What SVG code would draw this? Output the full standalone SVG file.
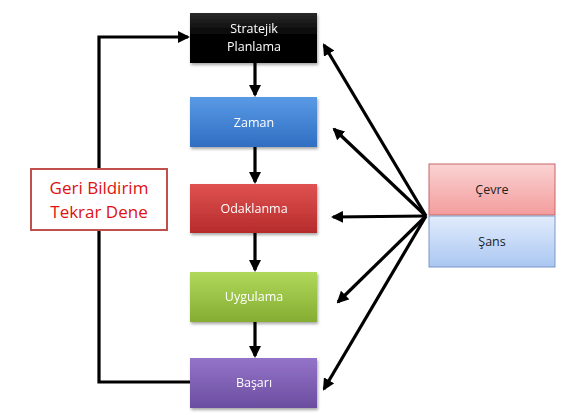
<svg xmlns="http://www.w3.org/2000/svg" width="565" height="415" viewBox="0 0 565 415">
<defs>
<style>
.nt{font-family:"Open Sans","Liberation Sans",sans-serif;font-size:12.5px;fill:#fff;text-anchor:middle}
.st{font-family:"Open Sans","Liberation Sans",sans-serif;font-size:12.5px;fill:#222;text-anchor:middle}
.ft{font-family:"Open Sans","Liberation Sans",sans-serif;font-size:17px;fill:#e01010;text-anchor:middle}
.ln{stroke:#000;stroke-width:3.2;fill:none}
</style>
<linearGradient id="gBlack" x1="0" y1="0" x2="0" y2="1"><stop offset="0" stop-color="#2a2a2a"/><stop offset="0.5" stop-color="#000"/><stop offset="1" stop-color="#000"/></linearGradient>
<linearGradient id="gBlue" x1="0" y1="0" x2="0" y2="1"><stop offset="0" stop-color="#5a9ae6"/><stop offset="1" stop-color="#2f6ec2"/></linearGradient>
<linearGradient id="gRed" x1="0" y1="0" x2="0" y2="1"><stop offset="0" stop-color="#e05252"/><stop offset="1" stop-color="#b62b2b"/></linearGradient>
<linearGradient id="gGreen" x1="0" y1="0" x2="0" y2="1"><stop offset="0" stop-color="#b0d85a"/><stop offset="1" stop-color="#85ad32"/></linearGradient>
<linearGradient id="gPurple" x1="0" y1="0" x2="0" y2="1"><stop offset="0" stop-color="#9474c8"/><stop offset="1" stop-color="#6b4da0"/></linearGradient>
<linearGradient id="gPink" x1="0" y1="0" x2="0" y2="1"><stop offset="0" stop-color="#fbd3d3"/><stop offset="1" stop-color="#f39c9c"/></linearGradient>
<linearGradient id="gLBlue" x1="0" y1="0" x2="0" y2="1"><stop offset="0" stop-color="#e2ecfc"/><stop offset="1" stop-color="#aac7f2"/></linearGradient>
<filter id="sh" x="-10%" y="-10%" width="130%" height="140%"><feDropShadow dx="1" dy="2" stdDeviation="1.5" flood-color="#000" flood-opacity="0.35"/></filter>
<marker id="ah" markerWidth="12" markerHeight="12" refX="10" refY="6" orient="auto" markerUnits="userSpaceOnUse" viewBox="0 0 12 12"><path d="M0,0 L12,6 L0,12 z" fill="#000"/></marker>
</defs>
<rect width="565" height="415" fill="#fff"/>
<g id="connectors">
<path class="ln" d="M255,63 L255,95" marker-end="url(#ah)"/>
<path class="ln" d="M255,147 L255,182" marker-end="url(#ah)"/>
<path class="ln" d="M255,233 L255,270" marker-end="url(#ah)"/>
<path class="ln" d="M255,322 L255,356" marker-end="url(#ah)"/>
<path class="ln" d="M190,382 L99,382 L99,37 L188,37" marker-end="url(#ah)"/>
<path class="ln" d="M426,216 L324,45" marker-end="url(#ah)"/>
<path class="ln" d="M426,216 L334,129" marker-end="url(#ah)"/>
<path class="ln" d="M426,216 L333,217" marker-end="url(#ah)"/>
<path class="ln" d="M426,216 L338,302" marker-end="url(#ah)"/>
<path class="ln" d="M426,216 L324,389" marker-end="url(#ah)"/>
</g>
<g id="n-stratejik" filter="url(#sh)"><rect x="190" y="13" width="127" height="50" fill="url(#gBlack)"/><text class="nt" x="254" y="33">Stratejik</text><text class="nt" x="254" y="51">Planlama</text></g>
<g id="n-zaman" filter="url(#sh)"><rect x="190" y="97" width="127" height="50" fill="url(#gBlue)"/><text class="nt" x="254" y="127">Zaman</text></g>
<g id="n-odaklanma" filter="url(#sh)"><rect x="190" y="184" width="127" height="49" fill="url(#gRed)"/><text class="nt" x="254" y="213">Odaklanma</text></g>
<g id="n-uygulama" filter="url(#sh)"><rect x="190" y="272" width="127" height="50" fill="url(#gGreen)"/><text class="nt" x="254" y="301">Uygulama</text></g>
<g id="n-basari" filter="url(#sh)"><rect x="190" y="358" width="127" height="50" fill="url(#gPurple)"/><text class="nt" x="254" y="387">Başarı</text></g>
<g id="n-cevre"><rect x="429" y="164" width="126" height="51" fill="url(#gPink)" stroke="#c86464" stroke-width="1"/><text class="st" x="492" y="194">Çevre</text></g>
<g id="n-sans"><rect x="429" y="216" width="126" height="51" fill="url(#gLBlue)" stroke="#7a98c8" stroke-width="1"/><text class="st" x="492" y="246">Şans</text></g>
<g id="n-feedback"><rect x="31" y="169" width="136" height="61" fill="#fff" stroke="#c0504d" stroke-width="2"/><text class="ft" x="99" y="194">Geri Bildirim</text><text class="ft" x="99" y="218">Tekrar Dene</text></g>
</svg>
